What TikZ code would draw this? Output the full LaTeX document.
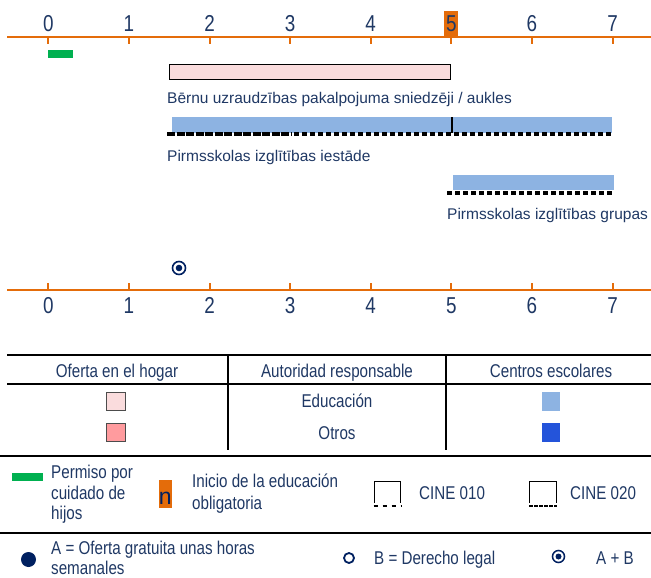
\documentclass[tikz,border=0pt]{standalone}
\usepackage{fontspec}
\setmainfont{Liberation Sans}
\newfontfamily\narrowfont[FakeStretch=0.82]{Liberation Sans}
\definecolor{navy}{HTML}{1F3864}
\definecolor{dotnavy}{HTML}{002060}
\definecolor{axorange}{HTML}{E46C0A}
\definecolor{leavegreen}{HTML}{00B050}
\definecolor{pinklight}{HTML}{FADCDD}
\definecolor{pinkdark}{HTML}{FF9B9E}
\definecolor{bluelight}{HTML}{8DB3E2}
\definecolor{bluedark}{HTML}{2454DA}
\begin{document}
\begin{tikzpicture}[x=1pt,y=-1pt,
  axisline/.style={draw=axorange,line width=2.2pt},
  tickline/.style={draw=axorange,line width=2pt},
  numlab/.style={text=navy,font=\narrowfont\fontsize{23}{26}\selectfont,inner sep=0pt},
  lab/.style={text=navy,font=\fontsize{15.5}{18}\selectfont,inner sep=0pt,anchor=base west},
  nlab/.style={text=navy,font=\narrowfont\fontsize{18.5}{21}\selectfont,inner sep=0pt},
  rule/.style={draw=black,line width=2pt},
  swatch/.style={draw=black!70,line width=0.6pt},
  denseline/.style={draw=black,line width=4pt,dash pattern=on 8pt off 1.5pt},
  sparseline/.style={draw=black,line width=4pt,dash pattern=on 5pt off 3pt},
]
\useasboundingbox (0,0) rectangle (651,578);
% ---------- top axis
\fill[axorange] (444,11) rectangle (457.5,36);
\draw[axisline] (7,37) -- (651,37);
\foreach \i in {0,...,7}{
  \draw[tickline] (48.3+80.6*\i,37) -- ++(0,7);
  \node[numlab] (t\i) at (48.3+80.6*\i,23.5) {\i};
}
% ---------- bars
\fill[leavegreen] (48,50) rectangle (73,58);
\node[draw=black,line width=0.8pt,fill=pinklight,minimum width=281pt,minimum height=15pt,inner sep=0pt,anchor=north west] (home) at (169,64) {};
\node[lab] (homelab) at (167,103) {Bērnu uzraudzības pakalpojuma sniedzēji / aukles};
\node[fill=bluelight,minimum width=440pt,minimum height=16pt,inner sep=0pt,anchor=north west] (kg) at (172,117) {};
\draw[black,line width=1.6pt] (452,117) -- (452,133);
\draw[denseline] (167,134) -- (292,134);
\draw[sparseline] (294,134) -- (612,134);
\node[lab] (kglab) at (167,161) {Pirmsskolas izglītības iestāde};
\node[fill=bluelight,minimum width=161pt,minimum height=15pt,inner sep=0pt,anchor=north west] (grp) at (453,175) {};
\draw[sparseline] (447,193) -- (612,193);
\node[lab] (grplab) at (447,219) {Pirmsskolas izglītības grupas};
% ---------- circled dot
\node[circle,draw=dotnavy,line width=1.6pt,minimum size=13pt,inner sep=0pt] (ab) at (179,268) {};
\fill[dotnavy] (ab.center) circle (3.3);
% ---------- bottom axis
\draw[axisline] (7,290) -- (651,290);
\foreach \i in {0,...,7}{
  \draw[tickline] (48.3+80.6*\i,290) -- ++(0,-7);
  \node[numlab] (b\i) at (48.3+80.6*\i,305.5) {\i};
}
% ---------- table
\draw[rule] (7,355) -- (651,355);
\draw[rule] (7,384) -- (651,384);
\draw[rule] (228,355) -- (228,450);
\draw[rule] (446,355) -- (446,450);
\node[nlab,anchor=base] (h1) at (117,377) {Oferta en el hogar};
\node[nlab,anchor=base] (h2) at (337,377) {Autoridad responsable};
\node[nlab,anchor=base] (h3) at (551,377) {Centros escolares};
\node[nlab,anchor=base] (r1) at (337,407) {Educación};
\node[nlab,anchor=base] (r2) at (337,439) {Otros};
\filldraw[swatch,fill=pinklight] (106.5,392.5) rectangle (125.5,410.5);
\filldraw[swatch,fill=pinkdark] (106.5,423.5) rectangle (125.5,441.5);
\fill[bluelight] (542,392) rectangle (560,411);
\fill[bluedark] (542,423) rectangle (560,442);
% ---------- legend row 1
\draw[rule] (0,456) -- (651,456);
\fill[leavegreen] (12,473) rectangle (43,481);
\node[nlab,anchor=base west] (p1) at (51,478) {Permiso por};
\node[nlab,anchor=base west] (p2) at (51,499) {cuidado de};
\node[nlab,anchor=base west] (p3) at (51,519) {hijos};
\fill[axorange] (158.5,480) rectangle (172,508);
\node[text=dotnavy,font=\fontsize{23}{24}\selectfont,inner sep=0pt,anchor=base] (nn) at (165.2,504) {n};
\node[nlab,anchor=base west] (i1) at (192,487) {Inicio de la educación};
\node[nlab,anchor=base west] (i2) at (192,509) {obligatoria};
% CINE 010 symbol
\draw[black,line width=0.8pt] (374,503) -- (374,481) -- (400,481) -- (400,503);
\draw[black,line width=2.4pt,dash pattern=on 4pt off 5pt] (373.5,506) -- (401,506);
\node[nlab,anchor=base west] (c1) at (419,499) {CINE 010};
% CINE 020 symbol
\draw[black,line width=0.8pt] (529.5,503) -- (529.5,481) -- (556,481) -- (556,503);
\draw[black,line width=2.4pt,dash pattern=on 4pt off 1pt] (529,506) -- (557,506);
\node[nlab,anchor=base west] (c2) at (570,499) {CINE 020};
% ---------- legend row 2
\draw[rule] (0,533) -- (651,533);
\fill[dotnavy] (28.5,559.5) circle (7.5);
\node[nlab,anchor=base west] (a1) at (51,554) {A = Oferta gratuita unas horas};
\node[nlab,anchor=base west] (a2) at (51,574) {semanales};
\draw[dotnavy,line width=1.8pt] (349,558) circle (5);
\node[nlab,anchor=base west] (bl) at (374,564) {B = Derecho legal};
\node[circle,draw=dotnavy,line width=1.5pt,minimum size=12pt,inner sep=0pt] (abl) at (558.5,556.5) {};
\fill[dotnavy] (abl.center) circle (3);
\node[nlab,anchor=base west] (apb) at (596,564) {A + B};
\end{tikzpicture}
\end{document}
